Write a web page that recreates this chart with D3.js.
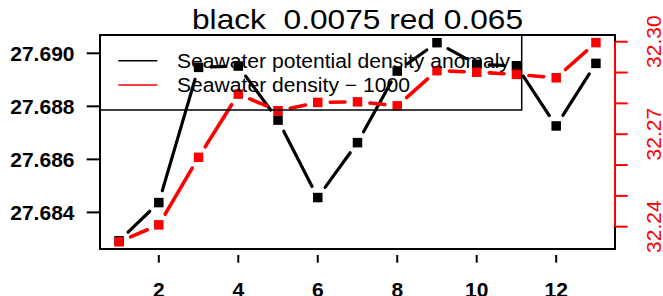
<!DOCTYPE html>
<html>
<head>
<meta charset="utf-8">
<script src="https://cdn.jsdelivr.net/npm/d3@7"></script>
<style>
  body { margin: 0; background: #fff; }
  svg { display: block; font-family: "Liberation Sans", Arial, sans-serif; }
</style>
</head>
<body>
<svg id="chart" width="663" height="296"></svg>
<script>
// data
const index = [1, 2, 3, 4, 5, 6, 7, 8, 9, 10, 11, 12, 13]
const sigma = [27.68293, 27.68437, 27.68947, 27.68952, 27.68748, 27.68456, 27.68663,
               27.68933, 27.69040, 27.68958, 27.68953, 27.68726, 27.68962]
const rho = [32.2351, 32.2406, 32.2625, 32.2830, 32.2776, 32.2803, 32.2805,
             32.2792, 32.2906, 32.2901, 32.2894, 32.2883, 32.2997]
const xTicks = [2, 4, 6, 8, 10, 12]
const leftTicks = [27.684, 27.686, 27.688, 27.690]
const rightTicks = [32.24, 32.25, 32.26, 32.27, 32.28, 32.29, 32.30]
const rightLabels = [32.24, 32.27, 32.30]
const legendNames = ["Seawater potential density anomaly", "Seawater density \u2212 1000"]
const title = "black  0.0075 red 0.065"

const svg = d3.select('#chart')
const box = {left: 100, right: 615, top: 35, bottom: 249}

// R style axis extension of 4% on x
const x = d3.scaleLinear().domain([0.52, 13.48]).range([box.left, box.right])
const yL = d3.scaleLinear().domain([27.684, 27.690]).range([212.4, 53.3])
const yR = d3.scaleLinear().domain([32.24, 32.30]).range([226.7, 41.7])

// type="b" : segments stop short of the points
function gappedSegments(xs, ys, gap) {
    let segs = []
    for (let i = 1; i < xs.length; i++) {
        let x0 = xs[i-1], y0 = ys[i-1], x1 = xs[i], y1 = ys[i]
        let len = Math.hypot(x1 - x0, y1 - y0)
        let f = gap / len
        if (f < 0.5) {
            segs.push([x0 + f * (x1 - x0), y0 + f * (y1 - y0),
                       x1 - f * (x1 - x0), y1 - f * (y1 - y0)])
        }
    }
    return segs
}

function drawSeries(values, yScale, color, width) {
    let xs = index.map(d => x(d))
    let ys = values.map(d => yScale(d))
    let g = svg.append('g')
    g.selectAll('line')
        .data(gappedSegments(xs, ys, 12.5))
        .join('line')
        .attr('x1', d => d[0]).attr('y1', d => d[1])
        .attr('x2', d => d[2]).attr('y2', d => d[3])
        .attr('stroke', color)
        .attr('stroke-width', width)
        .attr('stroke-linecap', 'round')
    g.selectAll('rect')
        .data(values)
        .join('rect')
        .attr('x', (d, i) => xs[i] - 4.75)
        .attr('y', d => yScale(d) - 4.75)
        .attr('width', 9.5)
        .attr('height', 9.5)
        .attr('fill', color)
}

drawSeries(sigma, yL, '#000', 3.2)
drawSeries(rho, yR, '#ff0000', 3.6)

// plot box
svg.append('rect')
    .attr('x', box.left).attr('y', box.top)
    .attr('width', box.right - box.left).attr('height', box.bottom - box.top)
    .attr('fill', 'none').attr('stroke', '#000').attr('stroke-width', 2)

// left axis
svg.append('g').selectAll('line')
    .data(leftTicks).join('line')
    .attr('x1', 86.7).attr('x2', box.left)
    .attr('y1', d => yL(d)).attr('y2', d => yL(d))
    .attr('stroke', '#000').attr('stroke-width', 2)
svg.append('g').selectAll('text')
    .data(leftTicks).join('text')
    .attr('x', 74.5).attr('y', d => yL(d) + 7.5)
    .attr('text-anchor', 'end')
    .attr('font-size', 21).attr('font-weight', 'bold')
    .text(d => d3.format('.3f')(d))

// bottom axis
svg.append('g').selectAll('line')
    .data(xTicks).join('line')
    .attr('x1', d => x(d)).attr('x2', d => x(d))
    .attr('y1', 255).attr('y2', 262.7)
    .attr('stroke', '#000').attr('stroke-width', 2)
svg.append('g').selectAll('text')
    .data(xTicks).join('text')
    .attr('x', d => x(d)).attr('y', 296.5)
    .attr('text-anchor', 'middle')
    .attr('font-size', 21).attr('font-weight', 'bold')
    .text(d => d)

// right axis, red
svg.append('line')
    .attr('x1', box.right).attr('x2', box.right)
    .attr('y1', yR(32.24)).attr('y2', yR(32.30))
    .attr('stroke', '#ff0000').attr('stroke-width', 2)
svg.append('g').selectAll('line')
    .data(rightTicks).join('line')
    .attr('x1', box.right).attr('x2', 627.7)
    .attr('y1', d => yR(d)).attr('y2', d => yR(d))
    .attr('stroke', '#ff0000').attr('stroke-width', 2)
svg.append('g').selectAll('text')
    .data(rightLabels).join('text')
    .attr('transform', d => `translate(661,${yR(d)}) rotate(-90)`)
    .attr('text-anchor', 'middle')
    .attr('font-size', 21)
    .attr('fill', '#ff0000')
    .text(d => d3.format('.2f')(d))

// legend
svg.append('rect')
    .attr('x', box.left).attr('y', box.top)
    .attr('width', 421.7).attr('height', 75)
    .attr('fill', 'none').attr('stroke', '#000').attr('stroke-width', 1.5)
let legendRows = [{name: legendNames[0], color: '#000', y: 60.7, w: 333},
                  {name: legendNames[1], color: '#ff0000', y: 85, w: 233}]
let lg = svg.append('g').selectAll('g').data(legendRows).join('g')
lg.append('line')
    .attr('x1', 118.3).attr('x2', 157.3)
    .attr('y1', d => d.y).attr('y2', d => d.y)
    .attr('stroke', d => d.color).attr('stroke-width', 1.5)
lg.append('text')
    .attr('x', 177).attr('y', d => d.y + 6.8)
    .attr('font-size', 20)
    .attr('textLength', d => d.w)
    .attr('lengthAdjust', 'spacingAndGlyphs')
    .text(d => d.name)

// title
svg.append('text')
    .attr('x', 357.5).attr('y', 29.3)
    .attr('text-anchor', 'middle')
    .attr('font-size', 28.5)
    .attr('textLength', 331)
    .attr('lengthAdjust', 'spacingAndGlyphs')
    .style('white-space', 'pre')
    .text(title)
</script>
</body>
</html>
